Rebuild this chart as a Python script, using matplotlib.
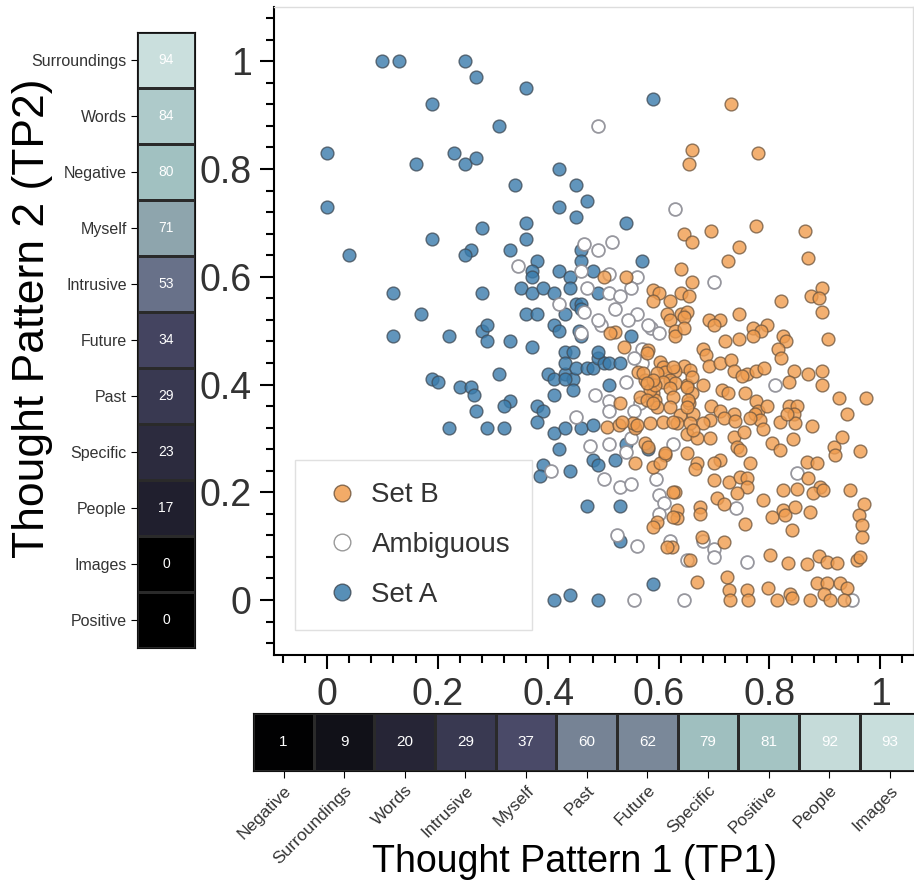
import numpy as np
import matplotlib.pyplot as plt
from matplotlib.colors import LinearSegmentedColormap
from matplotlib.ticker import MultipleLocator, FuncFormatter
from matplotlib.lines import Line2D

plt.rcParams['font.family'] = ['Liberation Sans', 'DejaVu Sans']

# heatmap strips: thought categories ordered along each pattern
tp2_labels = ['Surroundings', 'Words', 'Negative', 'Myself', 'Intrusive', 'Future',
              'Past', 'Specific', 'People', 'Images', 'Positive']
tp2_values = [94, 84, 80, 71, 53, 34, 29, 23, 17, 0, 0]
tp1_labels = ['Negative', 'Surroundings', 'Words', 'Intrusive', 'Myself', 'Past',
              'Future', 'Specific', 'Positive', 'People', 'Images']
tp1_values = [1, 9, 20, 29, 37, 60, 62, 79, 81, 92, 93]

# scatter points (TP1, TP2)
set_a = [(0.10, 1.00), (0.13, 1.00), (0.25, 1.00), (0.27, 0.97), (0.36, 0.95), (0.19, 0.92),
         (0.31, 0.88), (0.00, 0.83), (0.23, 0.83), (0.16, 0.81), (0.25, 0.81), (0.27, 0.82),
         (0.42, 0.80), (0.34, 0.77), (0.45, 0.77), (0.00, 0.73), (0.42, 0.73), (0.45, 0.71),
         (0.28, 0.69), (0.36, 0.70), (0.36, 0.67), (0.19, 0.67), (0.33, 0.65), (0.26, 0.65),
         (0.25, 0.64), (0.04, 0.64), (0.38, 0.63), (0.37, 0.61), (0.37, 0.60), (0.35, 0.58),
         (0.37, 0.57), (0.39, 0.58), (0.42, 0.61), (0.44, 0.60), (0.41, 0.57), (0.44, 0.58),
         (0.43, 0.53), (0.45, 0.55), (0.12, 0.57), (0.17, 0.53), (0.28, 0.57), (0.36, 0.53),
         (0.38, 0.53), (0.41, 0.51), (0.42, 0.50), (0.28, 0.50), (0.29, 0.51), (0.59, 0.93),
         (0.47, 0.74), (0.54, 0.70), (0.57, 0.63), (0.46, 0.65), (0.46, 0.63), (0.48, 0.61),
         (0.49, 0.57), (0.46, 0.55), (0.46, 0.54), (0.12, 0.49), (0.22, 0.49), (0.29, 0.48),
         (0.33, 0.48), (0.37, 0.47), (0.19, 0.41), (0.20, 0.405), (0.24, 0.395), (0.26, 0.395),
         (0.265, 0.38), (0.31, 0.42), (0.33, 0.37), (0.32, 0.36), (0.27, 0.35), (0.22, 0.32),
         (0.29, 0.32), (0.32, 0.32), (0.38, 0.36), (0.39, 0.35), (0.38, 0.33), (0.40, 0.42),
         (0.41, 0.41), (0.43, 0.42), (0.445, 0.41), (0.41, 0.38), (0.445, 0.39), (0.41, 0.31),
         (0.43, 0.32), (0.42, 0.28), (0.39, 0.25), (0.385, 0.23), (0.44, 0.24), (0.43, 0.46),
         (0.445, 0.46), (0.43, 0.44), (0.41, 0.00), (0.44, 0.01), (0.455, 0.50), (0.46, 0.49),
         (0.45, 0.43), (0.47, 0.43), (0.48, 0.43), (0.49, 0.45), (0.50, 0.44), (0.51, 0.44),
         (0.53, 0.44), (0.55, 0.49), (0.51, 0.40), (0.46, 0.32), (0.48, 0.325), (0.48, 0.26),
         (0.49, 0.25), (0.52, 0.26), (0.47, 0.175), (0.53, 0.175), (0.53, 0.11), (0.49, 0.00),
         (0.59, 0.03), (0.54, 0.29), (0.58, 0.28), (0.49, 0.46), (0.43, 0.41)]

ambiguous = [(0.49, 0.88), (0.63, 0.725), (0.345, 0.62), (0.42, 0.55), (0.465, 0.66), (0.49, 0.65),
             (0.515, 0.665), (0.70, 0.59), (0.56, 0.60), (0.55, 0.58), (0.51, 0.57), (0.51, 0.605),
             (0.46, 0.61), (0.47, 0.58), (0.53, 0.565), (0.465, 0.535), (0.495, 0.51), (0.49, 0.52),
             (0.52, 0.54), (0.56, 0.53), (0.545, 0.52), (0.585, 0.505), (0.60, 0.495), (0.57, 0.465),
             (0.57, 0.44), (0.555, 0.45), (0.565, 0.365), (0.555, 0.35), (0.54, 0.405), (0.485, 0.38),
             (0.51, 0.37), (0.51, 0.35), (0.45, 0.34), (0.475, 0.285), (0.51, 0.29), (0.54, 0.275),
             (0.55, 0.30), (0.50, 0.225), (0.53, 0.21), (0.55, 0.215), (0.60, 0.195), (0.61, 0.18),
             (0.60, 0.16), (0.595, 0.225), (0.625, 0.29), (0.74, 0.17), (0.525, 0.12), (0.56, 0.10),
             (0.62, 0.11), (0.68, 0.11), (0.70, 0.095), (0.70, 0.08), (0.65, 0.075), (0.76, 0.07),
             (0.645, 0.00), (0.555, 0.00), (0.81, 0.40), (0.85, 0.235), (0.95, 0.00), (0.405, 0.24),
             (0.46, 0.495), (0.58, 0.51)]

set_b = [(0.73, 0.92), (0.66, 0.835), (0.655, 0.81), (0.78, 0.83), (0.645, 0.68), (0.66, 0.665),
         (0.695, 0.685), (0.775, 0.695), (0.865, 0.685), (0.745, 0.655), (0.725, 0.63), (0.87, 0.635),
         (0.64, 0.615), (0.50, 0.60), (0.54, 0.60), (0.59, 0.575), (0.60, 0.57), (0.62, 0.555),
         (0.64, 0.57), (0.66, 0.59), (0.655, 0.565), (0.59, 0.555), (0.82, 0.555), (0.875, 0.565),
         (0.895, 0.58), (0.89, 0.56), (0.895, 0.535), (0.745, 0.53), (0.69, 0.52), (0.71, 0.52),
         (0.70, 0.51), (0.615, 0.53), (0.64, 0.53), (0.65, 0.535), (0.77, 0.505), (0.795, 0.51),
         (0.785, 0.50), (0.77, 0.49), (0.62, 0.52), (0.645, 0.525), (0.63, 0.50), (0.63, 0.49),
         (0.645, 0.505), (0.905, 0.485), (0.825, 0.49), (0.83, 0.48), (0.72, 0.48), (0.745, 0.485),
         (0.68, 0.465), (0.685, 0.455), (0.815, 0.465), (0.82, 0.45), (0.645, 0.435), (0.63, 0.425),
         (0.69, 0.435), (0.71, 0.44), (0.73, 0.445), (0.735, 0.425), (0.76, 0.42), (0.775, 0.425),
         (0.79, 0.43), (0.75, 0.415), (0.845, 0.425), (0.835, 0.405), (0.87, 0.42), (0.895, 0.425),
         (0.895, 0.40), (0.925, 0.375), (0.975, 0.375), (0.94, 0.345), (0.65, 0.40), (0.68, 0.40),
         (0.66, 0.385), (0.655, 0.365), (0.715, 0.39), (0.725, 0.385), (0.755, 0.385), (0.775, 0.37),
         (0.78, 0.35), (0.795, 0.36), (0.835, 0.36), (0.85, 0.36), (0.845, 0.345), (0.695, 0.36),
         (0.71, 0.35), (0.735, 0.345),
         (0.638, 0.343), (0.662, 0.346), (0.693, 0.335), (0.717, 0.337), (0.738, 0.333), (0.774, 0.346),
         (0.783, 0.334), (0.765, 0.337), (0.819, 0.331), (0.846, 0.328), (0.831, 0.346), (0.876, 0.323),
         (0.650, 0.309), (0.669, 0.300), (0.693, 0.300), (0.632, 0.328), (0.656, 0.328), (0.680, 0.328),
         (0.735, 0.303), (0.753, 0.312), (0.741, 0.284), (0.747, 0.278), (0.789, 0.318), (0.804, 0.291),
         (0.819, 0.278), (0.843, 0.298), (0.916, 0.284), (0.931, 0.303), (0.919, 0.269), (0.963, 0.277),
         (0.650, 0.272), (0.669, 0.254), (0.665, 0.244), (0.711, 0.260), (0.699, 0.254), (0.765, 0.254),
         (0.867, 0.257), (0.886, 0.255), (0.870, 0.226), (0.892, 0.210), (0.879, 0.198), (0.897, 0.204),
         (0.849, 0.207), (0.825, 0.205), (0.946, 0.204), (0.699, 0.223), (0.726, 0.219), (0.747, 0.229),
         (0.759, 0.226), (0.759, 0.210), (0.741, 0.198), (0.629, 0.201), (0.632, 0.167), (0.632, 0.152),
         (0.623, 0.099), (0.705, 0.189), (0.717, 0.179), (0.675, 0.173), (0.675, 0.160), (0.789, 0.186),
         (0.804, 0.155), (0.825, 0.167), (0.828, 0.158), (0.846, 0.173), (0.873, 0.164), (0.840, 0.130),
         (0.756, 0.142), (0.970, 0.179), (0.961, 0.158), (0.967, 0.139), (0.967, 0.117), (0.678, 0.117),
         (0.717, 0.108), (0.656, 0.074), (0.801, 0.083), (0.834, 0.069), (0.867, 0.067), (0.889, 0.082),
         (0.904, 0.071), (0.922, 0.068), (0.958, 0.074), (0.964, 0.080), (0.669, 0.034), (0.723, 0.043),
         (0.726, 0.019), (0.729, 0.000), (0.759, 0.019), (0.762, 0.000), (0.798, 0.022), (0.813, 0.000),
         (0.837, 0.012), (0.840, 0.003), (0.873, 0.000), (0.886, 0.031), (0.904, 0.031), (0.928, 0.031),
         (0.940, 0.022), (0.898, 0.012), (0.910, 0.000), (0.934, 0.000),
         (0.521, 0.498), (0.512, 0.495), (0.581, 0.464), (0.578, 0.458), (0.602, 0.442), (0.608, 0.433),
         (0.611, 0.424), (0.596, 0.421), (0.620, 0.408), (0.629, 0.402), (0.608, 0.405), (0.590, 0.384),
         (0.593, 0.371), (0.596, 0.359), (0.620, 0.393), (0.626, 0.377), (0.656, 0.427), (0.659, 0.414),
         (0.650, 0.396), (0.653, 0.371), (0.650, 0.359), (0.662, 0.315), (0.563, 0.424), (0.575, 0.408),
         (0.584, 0.390), (0.566, 0.377), (0.578, 0.371), (0.593, 0.399), (0.530, 0.365), (0.506, 0.322),
         (0.527, 0.325), (0.557, 0.319), (0.554, 0.328), (0.575, 0.291), (0.581, 0.284), (0.557, 0.254),
         (0.590, 0.247), (0.611, 0.269), (0.602, 0.254), (0.596, 0.145), (0.590, 0.136), (0.615, 0.099),
         (0.533, 0.331), (0.560, 0.325), (0.584, 0.328), (0.608, 0.331), (0.626, 0.331), (0.611, 0.272),
         (0.626, 0.201), (0.626, 0.155), (0.536, 0.470), (0.626, 0.433), (0.572, 0.421), (0.590, 0.408),
         (0.578, 0.402), (0.590, 0.365), (0.620, 0.359)]

cmap = LinearSegmentedColormap.from_list('tp', [
    (0.00, '#000000'), (0.20, '#262536'), (0.37, '#4a4a68'), (0.53, '#687189'),
    (0.62, '#7a8899'), (0.71, '#8ea5ad'), (0.80, '#a1c1c1'), (0.94, '#cadfdd'),
    (1.00, '#d8e8e6')])

fig = plt.figure(figsize=(9.14, 8.89), dpi=100)

# main scatter
ax = fig.add_axes([0.2998, 0.2632, 0.6988, 0.7286])
a = np.array(set_a)
m = np.array(ambiguous)
b = np.array(set_b)
ax.scatter(a[:, 0], a[:, 1], s=85, color='#3a7bab', alpha=0.8,
           edgecolors=(0.25, 0.3, 0.35, 0.6), linewidths=1, zorder=2)
ax.scatter(m[:, 0], m[:, 1], s=85, facecolors='white',
           edgecolors=(0.55, 0.55, 0.58, 0.9), linewidths=1.3, zorder=3)
ax.scatter(b[:, 0], b[:, 1], s=85, color='#f09c4e', alpha=0.8,
           edgecolors=(0.45, 0.35, 0.25, 0.55), linewidths=1, zorder=4)

ax.set_xlim(-0.096, 1.059)
ax.set_ylim(-0.102, 1.10)
ax.xaxis.set_major_locator(MultipleLocator(0.2))
ax.yaxis.set_major_locator(MultipleLocator(0.2))
ax.xaxis.set_minor_locator(MultipleLocator(0.04))
ax.yaxis.set_minor_locator(MultipleLocator(0.04))
fmt = FuncFormatter(lambda v, p: '%g' % round(v, 2))
ax.xaxis.set_major_formatter(fmt)
ax.yaxis.set_major_formatter(fmt)
ax.tick_params(which='major', direction='out', length=10, width=1.5,
               labelsize=27, labelcolor='#333333', pad=6)
ax.tick_params(which='minor', direction='out', length=6, width=1.5)
for side in ['left', 'bottom']:
    ax.spines[side].set_linewidth(1.5)
    ax.spines[side].set_color('black')
for side in ['top', 'right']:
    ax.spines[side].set_color('#dddddd')
    ax.spines[side].set_linewidth(1)

handles = [
    Line2D([], [], marker='o', ls='', ms=12, mfc='#f09c4e', mec=(0.45, 0.35, 0.25, 0.5), alpha=0.85),
    Line2D([], [], marker='o', ls='', ms=12, mfc='white', mec='#999999'),
    Line2D([], [], marker='o', ls='', ms=12, mfc='#3a7bab', mec=(0.25, 0.3, 0.35, 0.5), alpha=0.85),
]
leg = ax.legend(handles, ['Set B', 'Ambiguous', 'Set A'], loc='lower left',
                bbox_to_anchor=(0.033, 0.039), fontsize=20, labelspacing=0.85,
                borderpad=0.8, handlelength=1.8, handletextpad=0.15, fancybox=False,
                framealpha=1, edgecolor='#e0e0e0', borderaxespad=0)
for t in leg.get_texts():
    t.set_color('#333333')

# left heatmap (TP2)
axl = fig.add_axes([0.150, 0.271, 0.0635, 0.693])
axl.pcolormesh(np.array(tp2_values[::-1]).reshape(-1, 1), cmap=cmap, vmin=0, vmax=100,
               edgecolors='#2a2a2a', linewidth=1)
axl.set_xlim(0, 1)
axl.set_ylim(0, len(tp2_values))
axl.set_xticks([])
axl.set_yticks(np.arange(len(tp2_labels)) + 0.5)
axl.set_yticklabels(tp2_labels[::-1], fontsize=11.5, color='#333333')
axl.tick_params(axis='y', length=4, width=0.8)
for i, v in enumerate(tp2_values[::-1]):
    axl.text(0.5, i + 0.5, str(v), ha='center', va='center', color='white', fontsize=10)
for s in axl.spines.values():
    s.set_color('#111111')

# bottom heatmap (TP1)
axb = fig.add_axes([0.277, 0.133, 0.730, 0.065])
axb.pcolormesh(np.array(tp1_values).reshape(1, -1), cmap=cmap, vmin=0, vmax=100,
               edgecolors='#2a2a2a', linewidth=1)
axb.set_ylim(0, 1)
axb.set_xlim(0, len(tp1_values))
axb.set_yticks([])
axb.set_xticks(np.arange(len(tp1_labels)) + 0.5)
axb.set_xticklabels(tp1_labels, fontsize=12.5, color='#333333', rotation=45,
                    ha='right', rotation_mode='anchor')
axb.tick_params(axis='x', length=5, width=0.8)
for i, v in enumerate(tp1_values):
    axb.text(i + 0.5, 0.5, str(v), ha='center', va='center', color='white', fontsize=11)
for s in axb.spines.values():
    s.set_color('#111111')

fig.text(0.036, 0.642, 'Thought Pattern 2 (TP2)', rotation=90, ha='center', va='center',
         fontsize=32, color='black')
fig.text(0.629, 0.030, 'Thought Pattern 1 (TP1)', ha='center', va='center',
         fontsize=27, color='black')

fig.savefig('out.png', dpi=100)
